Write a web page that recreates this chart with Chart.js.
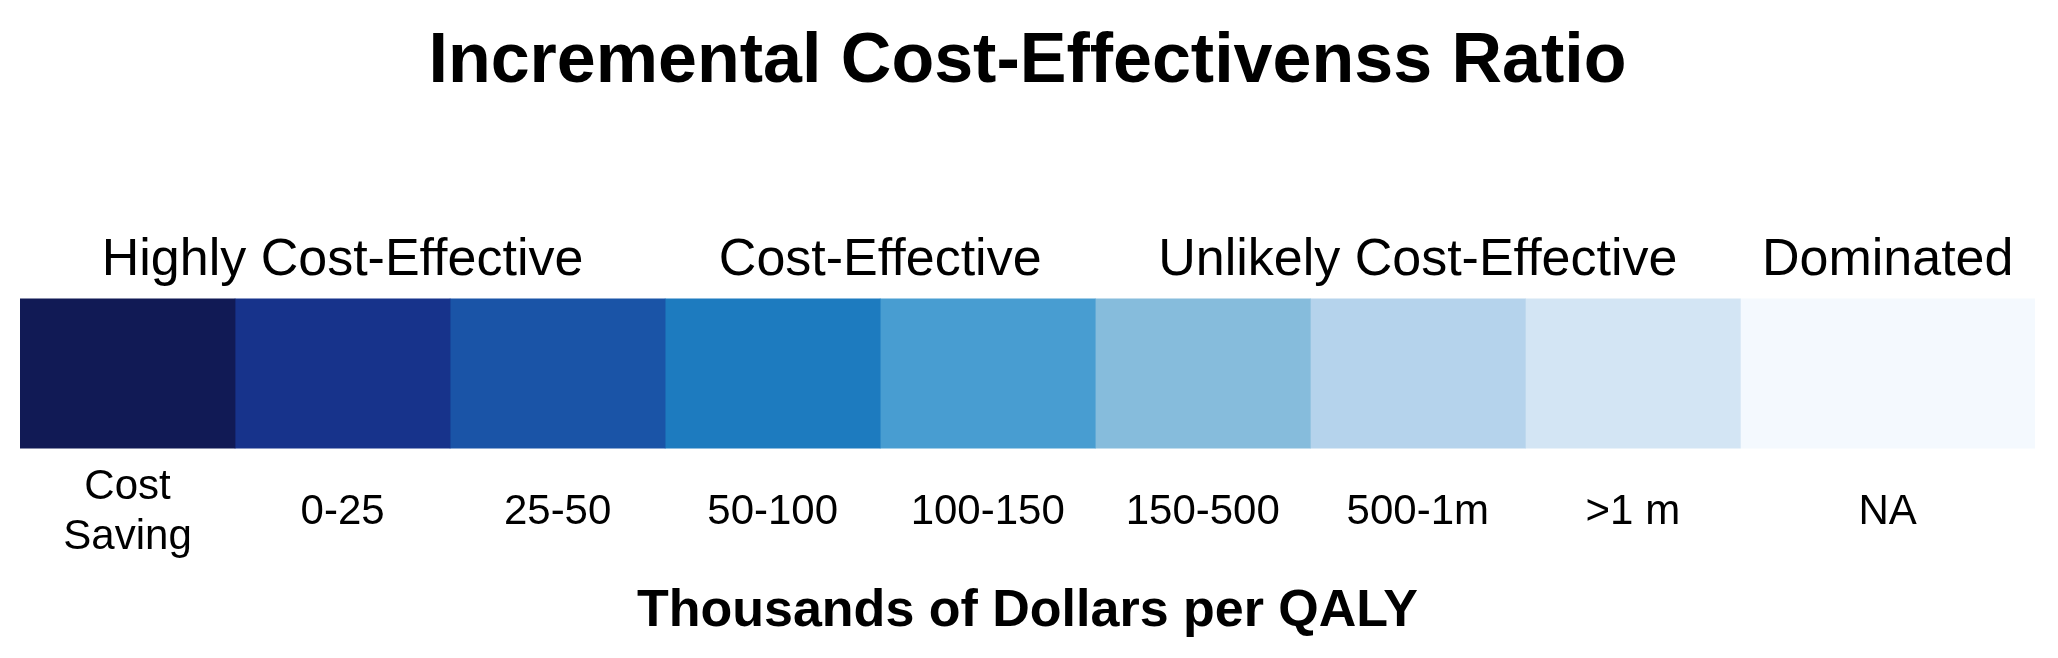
<!DOCTYPE html>
<html>
<head>
    <title>ICER scale</title>
    <script src="https://cdn.jsdelivr.net/npm/chart.js@4.4.1/dist/chart.umd.min.js"></script>
    <style>
        body {
            margin: 0;
            padding: 0;
            background-color: #ffffff;
        }
        #chartContainer {
            width: 2058px;
            height: 658px;
        }
    </style>
</head>
<body>
    <div id="chartContainer">
        <canvas id="icerChart"></canvas>
    </div>

    <script>
        // categories (cells of the colour bar), left to right
        const binLabels = [['Cost', 'Saving'], '0-25', '25-50', '50-100', '100-150', '150-500', '500-1m', '>1 m', 'NA'];
        // relative width of each cell (the NA cell is drawn wider)
        const binWidths = [1, 1, 1, 1, 1, 1, 1, 1, 1.37];
        const binColors = ['#111a55', '#17338b', '#1a54a7', '#1d7bbf', '#489dd1', '#86bcdc', '#b5d3ec', '#d3e5f4', '#f4f9fe'];

        // group headings above the bar, and how many cells each one covers
        const groupLabels = ['Highly Cost-Effective', 'Cost-Effective', 'Unlikely Cost-Effective', 'Dominated'];
        const groupSizes = [3, 2, 3, 1];

        // cell edges / centres on the value axis
        const edges = [0];
        binWidths.forEach(w => edges.push(edges[edges.length - 1] + w));
        const binCenters = binWidths.map((w, i) => edges[i] + w / 2);
        const groupCenters = [];
        let start = 0;
        groupSizes.forEach(n => {
            groupCenters.push((edges[start] + edges[start + n]) / 2);
            start += n;
        });
        const total = edges[edges.length - 1];

        const datasets = binWidths.map((w, i) => ({
            label: Array.isArray(binLabels[i]) ? binLabels[i].join(' ') : binLabels[i],
            data: [w],
            backgroundColor: binColors[i],
            borderWidth: 0,
            barPercentage: 1,
            categoryPercentage: 1,
            xAxisID: 'x',
            yAxisID: 'y'
        }));

        const fontFamily = '"Liberation Sans", Arial, Helvetica, sans-serif';

        const ctx = document.getElementById('icerChart').getContext('2d');
        new Chart(ctx, {
            type: 'bar',
            data: {
                labels: ['ICER'],
                datasets: datasets
            },
            options: {
                indexAxis: 'y',
                responsive: true,
                maintainAspectRatio: false,
                animation: false,
                layout: {
                    padding: { left: 20, right: 23, top: 0, bottom: 0 }
                },
                plugins: {
                    legend: { display: false },
                    tooltip: { enabled: false },
                    title: {
                        display: true,
                        text: 'Incremental Cost-Effectivenss Ratio',
                        color: '#000000',
                        font: { family: fontFamily, size: 70, weight: 'bold', lineHeight: 1.2 },
                        padding: { top: 21, bottom: 117 }
                    }
                },
                scales: {
                    x: {
                        type: 'linear',
                        position: 'bottom',
                        stacked: true,
                        min: 0,
                        max: total,
                        border: { display: false },
                        grid: { display: false, drawTicks: false },
                        afterBuildTicks: scale => {
                            scale.ticks = binCenters.map(v => ({ value: v }));
                        },
                        ticks: {
                            autoSkip: false,
                            maxRotation: 0,
                            minRotation: 0,
                            crossAlign: 'center',
                            padding: 39,
                            color: '#000000',
                            font: { family: fontFamily, size: 42, lineHeight: 50 / 42 },
                            callback: (value, index) => binLabels[index]
                        },
                        title: {
                            display: true,
                            text: 'Thousands of Dollars per QALY',
                            color: '#000000',
                            font: { family: fontFamily, size: 52, weight: 'bold', lineHeight: 1.2 },
                            padding: { top: -46, bottom: 15 }
                        }
                    },
                    x2: {
                        type: 'linear',
                        position: 'top',
                        min: 0,
                        max: total,
                        border: { display: false },
                        grid: { display: false, drawTicks: false },
                        afterBuildTicks: scale => {
                            scale.ticks = groupCenters.map(v => ({ value: v }));
                        },
                        ticks: {
                            autoSkip: false,
                            maxRotation: 0,
                            minRotation: 0,
                            padding: 7,
                            color: '#000000',
                            font: { family: fontFamily, size: 52, lineHeight: 1.2 },
                            callback: (value, index) => groupLabels[index]
                        }
                    },
                    y: {
                        stacked: true,
                        display: false
                    }
                }
            }
        });
    </script>
</body>
</html>
